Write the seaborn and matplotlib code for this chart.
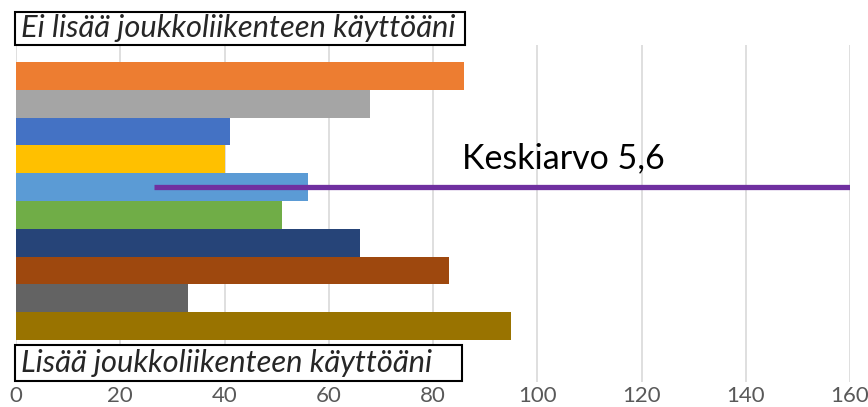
import numpy as np
import pandas as pd
import seaborn as sns
import matplotlib.pyplot as plt
from matplotlib.patches import Rectangle

sns.set_style('white')
plt.rcParams['font.family'] = ['Lato', 'DejaVu Sans']

# vastaukset asteikolla 1-10 (ylhäältä alas)
scores = ['1', '2', '3', '4', '5', '6', '7', '8', '9', '10']
counts = [86, 68, 41, 40, 56, 51, 66, 83, 33, 95]
colors = ['#ED7D31', '#A5A5A5', '#4472C4', '#FFC000', '#5B9BD5',
          '#70AD47', '#264478', '#9E480E', '#636363', '#997300']
mean_label = 'Keskiarvo 5,6'
mean_row = 4
mean_line_x = [26.5, 160]
top_label = 'Ei lisää joukkoliikenteen käyttöäni'
bottom_label = 'Lisää joukkoliikenteen käyttöäni'
xticks = [0, 20, 40, 60, 80, 100, 120, 140, 160]

df = pd.DataFrame({'vastaus': scores, 'lkm': counts})

W, H = 868, 407
fig = plt.figure(figsize=(W / 100, H / 100), dpi=100)
ax = fig.add_axes([16/W, 25/H, 834/W, 337/H])

sns.barplot(data=df, x='lkm', y='vastaus', hue='vastaus', palette=colors,
            orient='h', width=1.0, linewidth=0, saturation=1, legend=False,
            ax=ax, zorder=2)

ax.set_xlim(0, 160)
ax.set_ylim(11.01, -1.11)
ax.set_xticks(xticks)
ax.set_xticklabels([str(t) for t in xticks], fontsize=16, color='#595959')
ax.tick_params(axis='x', length=0, pad=3)
ax.set_yticks([])
ax.set_xlabel('')
ax.set_ylabel('')
ax.grid(axis='x', color='#D9D9D9', linewidth=1.2, zorder=0)
ax.set_axisbelow(True)
sns.despine(left=True, bottom=True)

ax.plot(mean_line_x, [mean_row, mean_row], color='#7030A0', linewidth=3.8,
        solid_capstyle='butt', zorder=3)
ax.text(85.6, mean_row - 1.05, mean_label, fontsize=24.5, color='black',
        va='center', ha='left', zorder=4)

# tekstilaatikot kuvan koordinaateissa (pikseleinä)
for (x0, y0, x1, y1), label in [((15, 12, 465, 45), top_label),
                                ((15, 345, 462, 381), bottom_label)]:
    fig.patches.append(Rectangle((x0 / W, 1 - y1 / H), (x1 - x0) / W, (y1 - y0) / H,
                                 transform=fig.transFigure, facecolor='white',
                                 edgecolor='black', linewidth=1.5, zorder=5))
    fig.text((x0 + 6) / W, 1 - (y0 + y1) / 2 / H, label, fontsize=22.2,
             style='italic', va='center', ha='left', zorder=6)

fig.savefig('out.png', dpi=100)
